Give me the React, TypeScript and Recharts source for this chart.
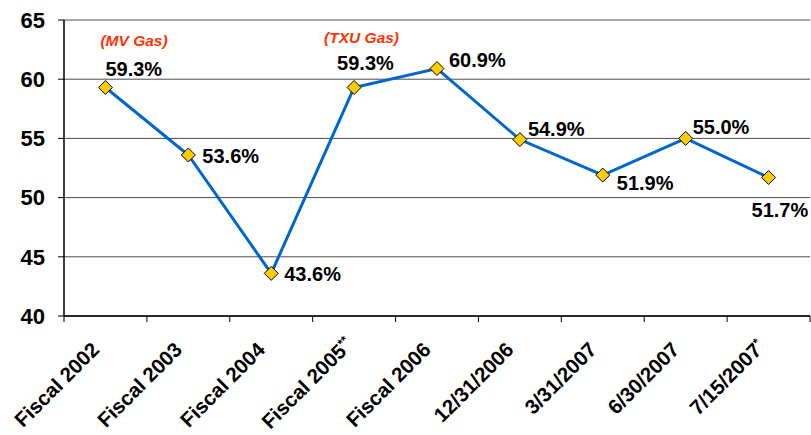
import React from 'react';
import { LineChart, Line, XAxis, YAxis, CartesianGrid, LabelList } from 'recharts';

const categories = ['Fiscal 2002', 'Fiscal 2003', 'Fiscal 2004', 'Fiscal 2005**', 'Fiscal 2006', '12/31/2006', '3/31/2007', '6/30/2007', '7/15/2007*'];
const ratios = [59.3, 53.6, 43.6, 59.3, 60.9, 54.9, 51.9, 55.0, 51.7];
const valueLabels = ['59.3%', '53.6%', '43.6%', '59.3%', '60.9%', '54.9%', '51.9%', '55.0%', '51.7%'];
const notes = ['(MV Gas)', '', '', '(TXU Gas)', '', '', '', '', ''];
const yTicks = [40, 45, 50, 55, 60, 65];

const data = categories.map((c, i) => ({ name: c, value: ratios[i], label: valueLabels[i], note: notes[i] }));

const FONT = '"Liberation Sans", Arial, sans-serif';
const W = 811;
const H = 435;
const M = { top: 20, right: 1, left: 0, bottom: 0 };
const Y_W = 64;
const BAND = (W - M.left - M.right - Y_W) / categories.length;

// label placement (style): dx, dy of baseline start relative to point
const labelOffsets: [number, number][] = [
  [0, -11], [14, 8], [13, 8], [-17, -17], [12, -2], [8, -4], [14, 15], [7, -4], [-17, 40],
];
const noteOffsets: [number, number][] = [
  [-5, -41], [0, 0], [0, 0], [-30, -44], [0, 0], [0, 0], [0, 0], [0, 0], [0, 0],
];

const Diamond = (props: any) => {
  const { cx, cy } = props;
  if (cx == null || cy == null) return null;
  const r = 7;
  return (
    <polygon
      points={`${cx},${cy - r} ${cx + r},${cy} ${cx},${cy + r} ${cx - r},${cy}`}
      fill="#FFCC00"
      stroke="#000"
      strokeWidth={1}
    />
  );
};

const PointLabel = (props: any) => {
  const { x, y, index } = props;
  const [dx, dy] = labelOffsets[index];
  const note = notes[index];
  const [nx, ny] = noteOffsets[index];
  return (
    <g>
      <text x={x + dx} y={y + dy} fontFamily={FONT} fontSize={20} fontWeight="bold" fill="#000" textAnchor="start">
        {valueLabels[index]}
      </text>
      {note ? (
        <text x={x + nx} y={y + ny} fontFamily={FONT} fontSize={15.5} fontWeight="bold" fontStyle="italic" fill="#FF3300" textAnchor="start">
          {note}
        </text>
      ) : null}
    </g>
  );
};

const XTick = (props: any) => {
  const { x, y, payload, index } = props;
  const raw: string = payload.value;
  const m = raw.match(/^(.*?)(\*+)$/);
  const main = m ? m[1] : raw;
  const stars = m ? m[2] : '';
  const left = x - BAND / 2;
  const right = x + BAND / 2;
  const shift = stars.length * 2.5;
  const ax = x - 5 + shift;
  const ay = y + 29 - shift;
  return (
    <g>
      <line x1={left} y1={y - 6} x2={left} y2={y} stroke="#000" strokeWidth={1} />
      {index === categories.length - 1 ? (
        <line x1={right} y1={y - 6} x2={right} y2={y} stroke="#000" strokeWidth={1} />
      ) : null}
      <text
        x={ax}
        y={ay}
        transform={`rotate(-45 ${ax} ${ay})`}
        textAnchor="end"
        fontFamily={FONT}
        fontSize={20.5}
        fontWeight="bold"
        fill="#000"
      >
        {main}
        {stars ? (
          <tspan fontSize={12} dy={-7}>{stars}</tspan>
        ) : null}
      </text>
    </g>
  );
};

export default function App() {
  return (
    <div style={{ position: 'absolute', left: 0, top: 0, width: W, height: H, background: '#fff' }}>
      <LineChart width={W} height={H} data={data} margin={M}>
        <CartesianGrid horizontal vertical={false} stroke="#4d4d4d" strokeWidth={1} />
        <XAxis
          dataKey="name"
          interval={0}
          padding={{ left: BAND / 2, right: BAND / 2 }}
          height={H - M.top - M.bottom - 296}
          axisLine={{ stroke: '#000', strokeWidth: 1.5 }}
          tickLine={false}
          tickSize={6}
          tickMargin={0}
          tick={<XTick />}
        />
        <YAxis
          domain={[40, 65]}
          ticks={yTicks}
          width={Y_W}
          allowDataOverflow
          axisLine={{ stroke: '#000', strokeWidth: 1.5 }}
          tickLine={{ stroke: '#000' }}
          tickSize={6}
          tickMargin={13}
          tick={{ fontFamily: FONT, fontSize: 22, fontWeight: 'bold', fill: '#000' }}
        />
        <YAxis
          yAxisId="r"
          orientation="right"
          width={0}
          domain={[40, 65]}
          tick={false}
          tickLine={false}
          axisLine={{ stroke: '#808080', strokeWidth: 1 }}
        />
        <Line
          type="linear"
          dataKey="value"
          stroke="#0066CC"
          strokeWidth={3}
          dot={<Diamond />}
          activeDot={false}
          isAnimationActive={false}
        >
          <LabelList dataKey="label" content={<PointLabel />} />
        </Line>
      </LineChart>
    </div>
  );
}
